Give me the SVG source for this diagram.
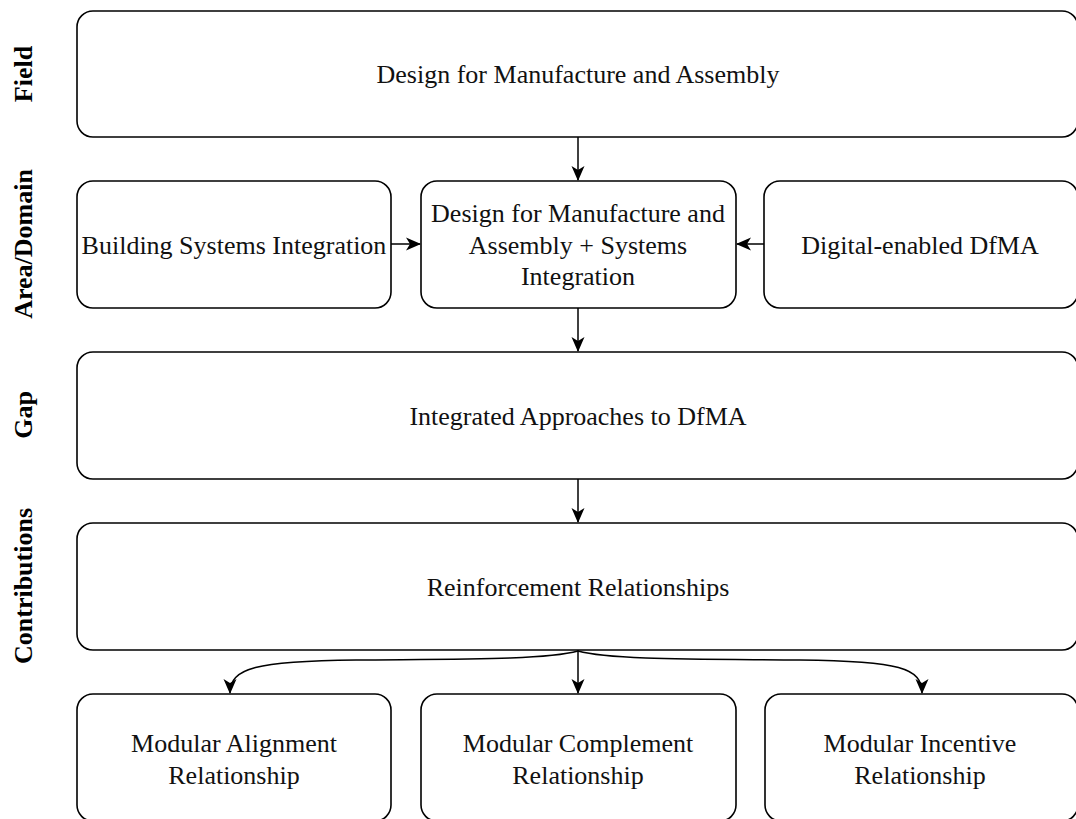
<svg xmlns="http://www.w3.org/2000/svg" width="1076" height="819" viewBox="0 0 1076 819">
<style>
.box{fill:#fff;stroke:#000;stroke-width:1.6}
.t{font-family:"Liberation Serif","Times New Roman",serif;font-size:26px;fill:#111;text-anchor:middle}
.lab{font-family:"Liberation Serif","Times New Roman",serif;font-size:26px;font-weight:bold;fill:#000;text-anchor:middle}
.e{fill:none;stroke:#000;stroke-width:1.5;marker-end:url(#ah)}
</style>
<defs>
<marker id="ah" markerUnits="userSpaceOnUse" viewBox="0 0 15 14" markerWidth="15" markerHeight="14" refX="14" refY="7" orient="auto">
<path d="M0,0.5 L15,7 L0,13.5 L4,7 z" fill="#000"/>
</marker>
</defs>
<rect width="1076" height="819" fill="#fff"/>
<g id="labels">
<text class="lab" transform="translate(32,74) rotate(-90)">Field</text>
<text class="lab" transform="translate(32,244) rotate(-90)">Area/Domain</text>
<text class="lab" transform="translate(32,415) rotate(-90)">Gap</text>
<text class="lab" transform="translate(32,586) rotate(-90)">Contributions</text>
</g>
<g id="connectors">
<path class="e" d="M578,137 L578,180"/>
<path class="e" d="M391,244 L420,244"/>
<path class="e" d="M764,244 L737,244"/>
<path class="e" d="M578,308 L578,351"/>
<path class="e" d="M578,479 L578,522"/>
<path class="e" d="M578,650 L578,693"/>
<path class="e" d="M578,651 C546,660 456,659 356,660 C256,661 230,668 230,693"/>
<path class="e" d="M578,651 C610,660 700,659 800,660 C900,661 922,668 922,693"/>
</g>
<g id="field">
<rect class="box" x="77" y="11" width="1001" height="126" rx="16"/>
<text class="t" x="578" y="83">Design for Manufacture and Assembly</text>
</g>
<g id="bsi">
<rect class="box" x="77" y="181" width="314" height="127" rx="16"/>
<text class="t" x="234" y="254">Building Systems Integration</text>
</g>
<g id="dfma-si">
<rect class="box" x="421" y="181" width="315" height="127" rx="16"/>
<text class="t" x="578" y="222">Design for Manufacture and</text>
<text class="t" x="578" y="253.5">Assembly + Systems</text>
<text class="t" x="578" y="285">Integration</text>
</g>
<g id="digital">
<rect class="box" x="764" y="181" width="314" height="127" rx="16"/>
<text class="t" x="920" y="254">Digital-enabled DfMA</text>
</g>
<g id="gap">
<rect class="box" x="77" y="352" width="1001" height="127" rx="16"/>
<text class="t" x="578" y="425">Integrated Approaches to DfMA</text>
</g>
<g id="contrib">
<rect class="box" x="77" y="523" width="1001" height="127" rx="16"/>
<text class="t" x="578" y="596">Reinforcement Relationships</text>
</g>
<g id="align">
<rect class="box" x="77" y="694" width="314" height="127" rx="16"/>
<text class="t" x="234" y="752">Modular Alignment</text>
<text class="t" x="234" y="783.5">Relationship</text>
</g>
<g id="complement">
<rect class="box" x="421" y="694" width="315" height="127" rx="16"/>
<text class="t" x="578" y="752">Modular Complement</text>
<text class="t" x="578" y="783.5">Relationship</text>
</g>
<g id="incentive">
<rect class="box" x="765" y="694" width="313" height="127" rx="16"/>
<text class="t" x="920" y="752">Modular Incentive</text>
<text class="t" x="920" y="783.5">Relationship</text>
</g>
</svg>
